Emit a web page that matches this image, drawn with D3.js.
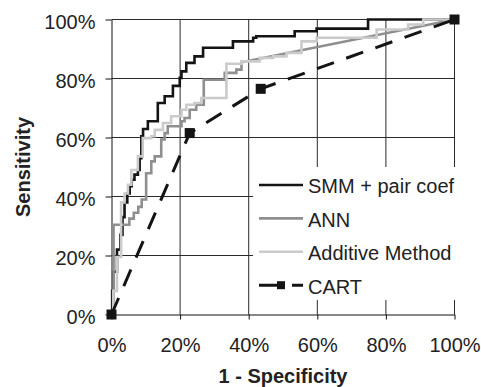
<!DOCTYPE html>
<html>
<head>
<meta charset="utf-8">
<script src="https://cdn.jsdelivr.net/npm/d3@7"></script>
<style>
    body { margin: 0; background: #fff; }
    text { font-family: "Liberation Sans", Arial, sans-serif; fill: #222; }
</style>
</head>
<body>
<div id="chart"></div>
<script>
// tick values (percent)
var xTicks = [0, 20, 40, 60, 80, 100];
var yTicks = [0, 20, 40, 60, 80, 100];
var seriesNames = ["SMM + pair coef", "ANN", "Additive Method", "CART"];

// ROC staircases: [1 - specificity %, sensitivity %] at each rise
var smmSteps = [[0, 0], [0.2, 8], [0.5, 14.5], [1.6, 22], [2.6, 27], [3.2, 33], [3.8, 38], [4.6, 41],
    [5.3, 43.5], [5.9, 45.7], [6.7, 47.4], [7.7, 49], [8.2, 53], [8.7, 60.4], [9.2, 62.9],
    [10.6, 65.5], [13.5, 71.7], [15.5, 74], [17.9, 77.5], [19.9, 80.2], [20.4, 82.4],
    [21.8, 85.3], [24.2, 87.5], [26.7, 90.4], [35.4, 92.6], [41.3, 93.8], [42.2, 94.3],
    [53.4, 96], [59.8, 96.9], [74.8, 100], [100, 100]];

var annSteps = [[0, 0], [0.6, 30.4], [5.2, 32.5], [6.5, 34.5], [7.8, 36.5], [8.8, 39], [10.1, 47.9],
    [11.6, 51.9], [12.6, 53.6], [14.5, 59.3], [15.5, 61.5], [16.4, 63.8], [20.4, 65.5],
    [21.3, 66.6], [22.8, 69.4], [24.7, 71.1], [26.9, 79.6], [33, 81.9], [36.4, 83], [37.9, 85.5]];
var annEnd = [100, 100];

var addSteps = [[0, 0], [0.5, 8], [1.6, 19.5], [2.8, 38], [3.8, 41], [4.8, 44], [5.8, 49],
    [7.7, 53.6], [9.1, 59.8], [11.6, 60.4], [12.6, 62.6], [15, 64.9], [17.4, 67.2],
    [20.4, 69.4], [21.8, 71.1], [24.2, 71.7], [26.2, 73.4], [33.5, 85], [37.9, 85.8],
    [43.2, 87], [47.1, 87.5], [51, 88.7], [55.4, 92.6], [59.8, 93.8], [77.3, 96.6],
    [86.5, 98.3], [90.9, 100], [100, 100]];

var cartPoints = [[0, 0], [22.8, 61.5], [43.5, 76.5], [100, 100]];

var width = 481, height = 387;

var svg = d3.select("#chart").append("svg")
    .attr("width", width)
    .attr("height", height);

var x = d3.scaleLinear().domain([0, 100]).range([111.5, 454.5]);
var y = d3.scaleLinear().domain([0, 100]).range([314.5, 19.5]);

// grid
svg.append("g").selectAll("line")
    .data(yTicks.filter(function (d) { return d > 0; }))
    .enter().append("line")
    .attr("x1", x(0)).attr("x2", x(100))
    .attr("y1", function (d) { return y(d); })
    .attr("y2", function (d) { return y(d); })
    .attr("stroke", "#2a2a2a").attr("stroke-width", 1);

svg.append("g").selectAll("line")
    .data(xTicks.filter(function (d) { return d > 0; }))
    .enter().append("line")
    .attr("y1", y(0)).attr("y2", y(100))
    .attr("x1", function (d) { return x(d); })
    .attr("x2", function (d) { return x(d); })
    .attr("stroke", "#2a2a2a").attr("stroke-width", 1);

// axes
var yAxis = d3.axisLeft(y)
    .tickValues(yTicks)
    .tickSize(6).tickSizeOuter(0).tickPadding(10)
    .tickFormat(function (d) { return d + "%"; });

var xAxis = d3.axisBottom(x)
    .tickValues(xTicks)
    .tickSize(5).tickSizeOuter(0).tickPadding(18)
    .tickFormat(function (d) { return d + "%"; });

var gy = svg.append("g").attr("transform", "translate(" + x(0) + ",0)").call(yAxis);
var gx = svg.append("g").attr("transform", "translate(0," + y(0) + ")").call(xAxis);

[gx, gy].forEach(function (g) {
    g.attr("font-family", null).attr("font-size", null);
    g.selectAll("path, line").attr("stroke", "#111");
    g.selectAll("text").style("font-size", "20px").attr("fill", "#222");
});
gy.selectAll("text").attr("dy", "0.43em");

// axis titles
svg.append("text")
    .attr("x", (x(0) + x(100)) / 2)
    .attr("y", 383)
    .attr("text-anchor", "middle")
    .style("font-size", "20px")
    .style("font-weight", "bold")
    .text("1 - Specificity");

svg.append("text")
    .attr("transform", "translate(29.5," + ((y(0) + y(100)) / 2) + ") rotate(-90)")
    .attr("text-anchor", "middle")
    .style("font-size", "20px")
    .style("font-weight", "bold")
    .text("Sensitivity");

// curves
var stepLine = d3.line()
    .x(function (d) { return x(d[0]); })
    .y(function (d) { return y(d[1]); })
    .curve(d3.curveStepAfter);

var straight = d3.line()
    .x(function (d) { return x(d[0]); })
    .y(function (d) { return y(d[1]); });

svg.append("path")
    .attr("d", stepLine(smmSteps))
    .attr("fill", "none").attr("stroke", "#141414").attr("stroke-width", 2.6);

svg.append("path")
    .attr("d", stepLine(annSteps) + "L" + x(annEnd[0]) + "," + y(annEnd[1]))
    .attr("fill", "none").attr("stroke", "#8f8f8f").attr("stroke-width", 2.6);

svg.append("path")
    .attr("d", stepLine(addSteps))
    .attr("fill", "none").attr("stroke", "#cbcbcb").attr("stroke-width", 2.6);

svg.append("path")
    .attr("d", straight(cartPoints))
    .attr("fill", "none").attr("stroke", "#141414").attr("stroke-width", 3)
    .attr("stroke-dasharray", "18,13");

svg.append("g").selectAll("rect")
    .data(cartPoints)
    .enter().append("rect")
    .attr("x", function (d) { return x(d[0]) - 5; })
    .attr("y", function (d) { return y(d[1]) - 5; })
    .attr("width", 10).attr("height", 10)
    .attr("fill", "#141414");

// legend
var legend = svg.append("g");
legend.append("rect")
    .attr("x", 253).attr("y", 167)
    .attr("width", 220).attr("height", 133)
    .attr("fill", "#fff");

var legendColors = ["#141414", "#8f8f8f", "#cbcbcb", "#141414"];
var item = legend.selectAll(".item")
    .data(seriesNames)
    .enter().append("g")
    .attr("class", "item")
    .attr("transform", function (d, i) { return "translate(259," + (185 + i * 33.4) + ")"; });

item.append("line")
    .attr("x1", 0).attr("x2", 44)
    .attr("stroke", function (d, i) { return legendColors[i]; })
    .attr("stroke-width", function (d, i) { return i == 3 ? 3 : 2.6; })
    .attr("stroke-dasharray", function (d, i) { return i == 3 ? "18,15" : null; });

item.filter(function (d, i) { return i == 3; })
    .append("rect")
    .attr("x", 18).attr("y", -4).attr("width", 8).attr("height", 8)
    .attr("fill", "#141414");

item.append("text")
    .attr("x", 49).attr("dy", "0.42em")
    .style("font-size", "20px")
    .text(function (d) { return d; });
</script>
</body>
</html>
